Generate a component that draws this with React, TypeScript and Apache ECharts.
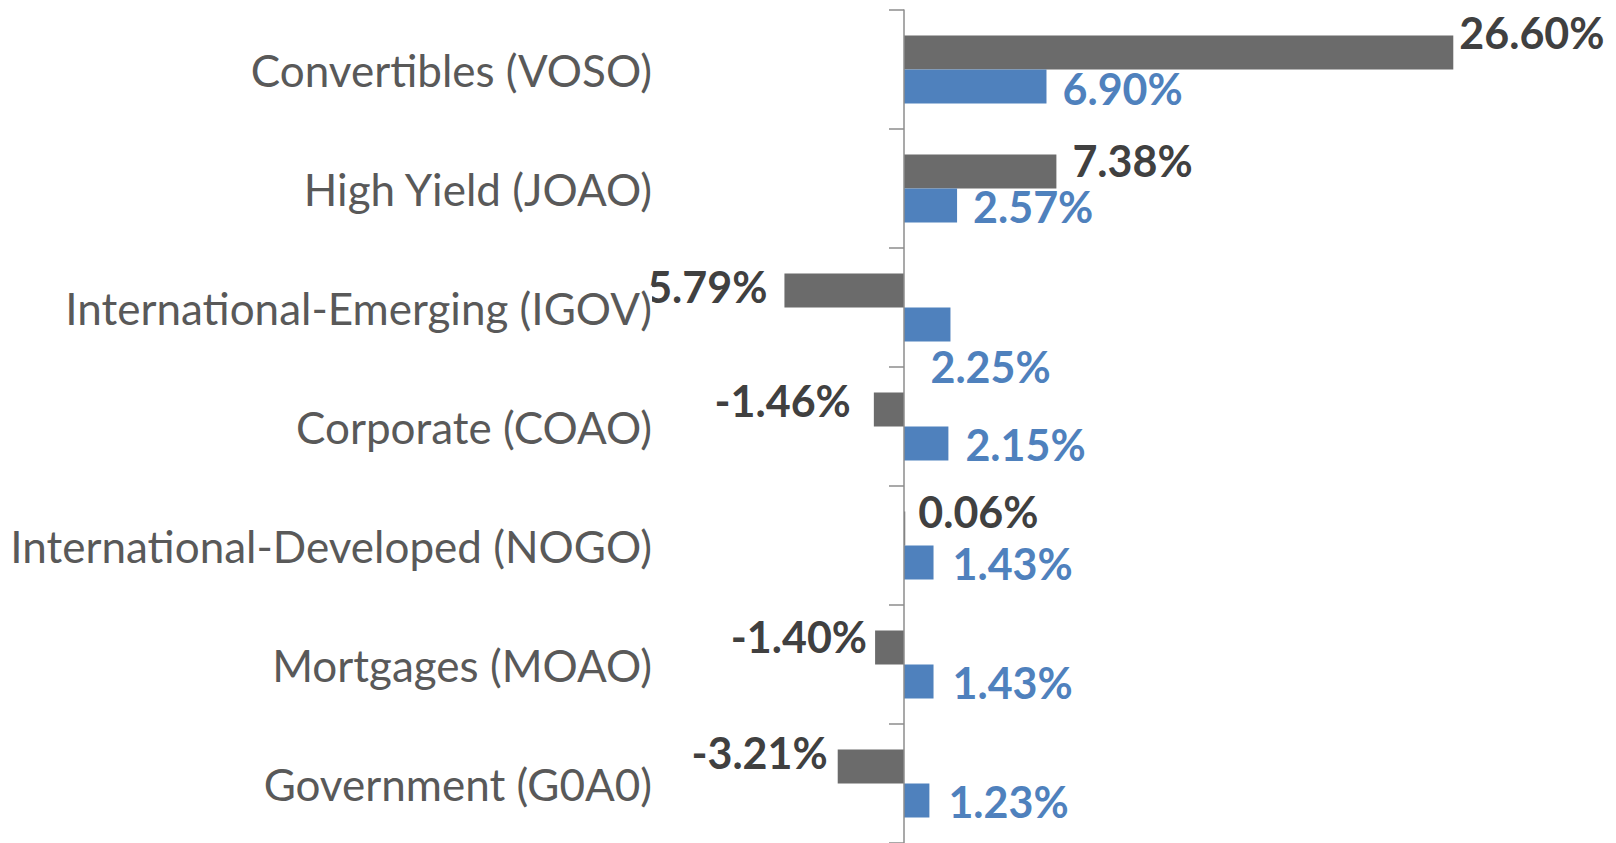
import React, { useEffect, useRef } from "react";
import * as echarts from "echarts";

const categories = [
  "Convertibles (VOSO)",
  "High Yield (JOAO)",
  "International-Emerging (IGOV)",
  "Corporate (COAO)",
  "International-Developed (NOGO)",
  "Mortgages (MOAO)",
  "Government (G0A0)",
];
const grayValues = [26.6, 7.38, -5.79, -1.46, 0.06, -1.4, -3.21];
const blueValues = [6.9, 2.57, 2.25, 2.15, 1.43, 1.43, 1.23];

// label placement tweaks (style, not data)
const grayLabelDist = [6, 16, 17, 23, 13, 8, 10];
const grayLabelDy = [-20, -11, -4, -9, -17, -11, -14];
const blueLabelDist = [16, 16, 0, 17, 19, 19, 19];
const blueLabelOffset: [number, number][] = [
  [0, 2],
  [0, 1],
  [-20, 42],
  [0, 1],
  [0, 1],
  [0, 1],
  [0, 1],
];

const GRAY = "#6b6b6b";
const BLUE = "#4f81bd";
const FONT = "Lato";

const fmt = (v: number) => `${v.toFixed(2)}%`;

export default function App() {
  const ref = useRef<HTMLDivElement>(null);
  useEffect(() => {
    document.body.style.margin = "0";
    if (!ref.current) return;
    const chart = echarts.init(ref.current, undefined, { renderer: "svg" });
    chart.setOption({
      animation: false,
      backgroundColor: "#ffffff",
      grid: {
        left: 697.5,
        right: 92.5,
        top: 10,
        bottom: 0,
        containLabel: false,
        outerBoundsMode: "none",
      },
      xAxis: {
        type: "value",
        min: -10,
        max: 30,
        show: false,
      },
      yAxis: {
        type: "category",
        data: categories,
        inverse: true,
        z: 5,
        axisLine: { show: true, onZero: true, lineStyle: { color: "#8c8c8c", width: 1.5 } },
        axisTick: { show: true, length: 15, lineStyle: { color: "#8c8c8c", width: 1.5 } },
        axisLabel: {
          margin: 45.5,
          fontFamily: FONT,
          fontSize: 44,
          color: "#595959",
          backgroundColor: "#ffffff",
        },
        splitLine: { show: false },
      },
      series: [
        {
          type: "bar",
          barWidth: 34,
          barGap: "0%",
          itemStyle: { color: GRAY },
          data: grayValues.map((v, i) => ({
            value: v,
            label: {
              show: true,
              position: v >= 0 ? "right" : "left",
              distance: grayLabelDist[i],
              offset: [0, grayLabelDy[i]],
            },
          })),
          label: {
            show: true,
            formatter: (p: any) => fmt(p.value),
            fontFamily: FONT,
            fontWeight: "bold",
            fontSize: 43,
            color: "#404040",
          },
        },
        {
          type: "bar",
          barWidth: 34,
          barGap: "0%",
          itemStyle: { color: BLUE },
          data: blueValues.map((v, i) => ({
            value: v,
            label: {
              show: true,
              position: "right",
              distance: blueLabelDist[i],
              offset: blueLabelOffset[i],
            },
          })),
          label: {
            show: true,
            formatter: (p: any) => fmt(p.value),
            fontFamily: FONT,
            fontWeight: "bold",
            fontSize: 43,
            color: BLUE,
          },
        },
      ],
    });
    return () => chart.dispose();
  }, []);
  return <div ref={ref} style={{ width: 1616, height: 843 }} />;
}
